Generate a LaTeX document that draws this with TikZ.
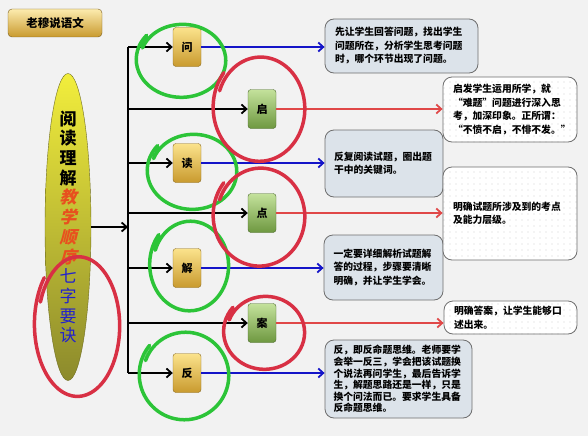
\documentclass[tikz,border=0pt]{standalone}
\usepackage{fontspec}
\newfontfamily\cjk{Noto Sans CJK SC}
\newfontfamily\cjkslant{Noto Sans CJK SC Bold}[FakeSlant=0.25]
\usetikzlibrary{shapes.geometric,arrows.meta,patterns.meta}
\definecolor{bgcol}{HTML}{F2F2F2}
\definecolor{goldtop}{HTML}{FBE38C}
\definecolor{goldbot}{HTML}{C99A2E}
\definecolor{greentop}{HTML}{C4E29C}
\definecolor{greenbot}{HTML}{6E9840}
\definecolor{elltop}{HTML}{F2EE3C}
\definecolor{ellmid}{HTML}{E6DE30}
\definecolor{ellbot}{HTML}{8C8A2C}
\definecolor{notefill}{HTML}{DCE3EA}
\definecolor{notegray}{HTML}{6E6E6E}
\definecolor{orderred}{HTML}{E8501E}
\definecolor{rulesblue}{HTML}{2222CC}
\definecolor{arrblue}{HTML}{1414C8}
\definecolor{arrred}{HTML}{E04848}
\definecolor{pengreen}{HTML}{2CC438}
\definecolor{penred}{HTML}{D83044}
\newcommand\handloop[5]{\draw[#1] plot[smooth,domain=200:580,samples=60,variable=\t]({#2+#4*(1+0.1*(\t-200)/380)*cos(\t)},{#3+#5*(1+0.1*(\t-200)/380)*sin(\t)});}
\tikzset{
  goldkey/.style={draw=goldbot!70!black,rounded corners=3pt,top color=goldtop,bottom color=goldbot,minimum width=28,minimum height=39,inner sep=0pt,font=\cjk\bfseries\fontsize{11}{13}\selectfont},
  greenkey/.style={goldkey,draw=greenbot!70!black,top color=greentop,bottom color=greenbot},
  note/.style={draw=notegray,fill=notefill,line width=0.8pt,rounded corners=9pt,align=left,inner xsep=10pt,font=\cjk\bfseries\fontsize{9.8}{13.5}\selectfont},
  dotnote/.style={note,fill=none,preaction={fill=white},pattern={Dots[distance=6pt,radius=0.45pt]},pattern color=gray},
  branch/.style={line width=1.8pt,-{Straight Barb[length=5pt,width=9pt]}},
  bluearr/.style={branch,draw=arrblue},
  redarr/.style={branch,draw=arrred},
  greenpen/.style={draw=pengreen,line width=3.5pt,line cap=round},
  redpen/.style={draw=penred,line width=3.5pt,line cap=round}
}
\begin{document}
\begin{tikzpicture}[x=1pt,y=-1pt]
\useasboundingbox[fill=bgcol] (0,0) rectangle (588,436);
% title button
\node[draw=goldbot!60!black,rounded corners=4pt,top color=goldtop!70!white,bottom color=goldbot,minimum width=94,minimum height=28,font=\cjk\bfseries\fontsize{11.5}{13}\selectfont] (title) at (55,23) {老穆说语文};
% main ellipse
\node[ellipse,draw=ellbot!80!black,top color=elltop,middle color=ellmid,bottom color=ellbot,minimum width=46,minimum height=307,inner sep=0pt] (main) at (68,227) {};
\node[align=center,inner sep=0pt,font=\cjk\bfseries\fontsize{17}{19.7}\selectfont] (maintxt) at (main.center) {阅\\读\\理\\解\\{\color{orderred}\cjkslant 教}\\{\color{orderred}\cjkslant 学}\\{\color{orderred}\cjkslant 顺}\\{\color{orderred}\cjkslant 序}\\{\color{rulesblue}\mdseries 七}\\{\color{rulesblue}\mdseries 字}\\{\color{rulesblue}\mdseries 要}\\{\color{rulesblue}\mdseries 诀}};
% the seven keys
\foreach \n/\k/\y in {wen/问/47,du/读/163,jie/解/268,fan/反/373}{\node[goldkey] (\n) at (187,\y) {\k};}
\foreach \n/\k/\y in {qi/启/109,dian/点/213,an/案/323}{\node[greenkey] (\n) at (262,\y) {\k};}
% trunk and branches
\coordinate (trunktop) at (128,47); \coordinate (trunkbot) at (128,373);
\draw[line width=1.8pt] (trunktop) -- (trunkbot);
\draw[branch] (main.east) -- (main.east -| trunktop);
\foreach \n in {wen,qi,du,dian,jie,an,fan}{\draw[branch] (\n.west -| trunktop) -- (\n.west);}
% notes
\node[note,minimum width=153,minimum height=54,text width=133] (twen) at (401.5,46) {先让学生回答问题，找出学生\\问题所在，分析学生思考问题\\时，哪个环节出现了问题。};
\node[note,minimum width=118,minimum height=67,text width=100,inner xsep=9pt] (tdu) at (384,163.5) {反复阅读试题，圈出题\\干中的关键词。};
\node[note,minimum width=119,minimum height=65,text width=100,inner xsep=9pt] (tjie) at (383.5,267.5) {一定要详细解析试题解\\答的过程，步骤要清晰\\明确，并让学生学会。};
\node[note,minimum width=147,minimum height=78,text width=130,inner xsep=8.5pt,font=\cjk\bfseries\fontsize{9.8}{11.6}\selectfont] (tfan) at (398.5,379) {反，即反命题思维。老师要学\\会举一反三，学会把该试题换\\个说法再问学生，最后告诉学\\生，解题思路还是一样，只是\\换个问法而已。要求学生具备\\反命题思维。};
\node[dotnote,minimum width=134,minimum height=65,text width=114] (tqi) at (510,109.5) {启发学生运用所学，就\\“难题”问题进行深入思\\考，加深印象。正所谓：\\“不愤不启，不悱不发。”};
\node[dotnote,minimum width=134,minimum height=93,text width=114] (tdian) at (510,213.5) {明确试题所涉及到的考点\\及能力层级。};
\node[dotnote,minimum width=133,minimum height=33,text width=113,inner ysep=2pt] (tan) at (510.5,317.5) {明确答案，让学生能够口\\述出来。};
\foreach \n in {wen,du,jie,fan}{\draw[bluearr] (\n.east) -- (\n.east -| t\n.west);}
\foreach \n in {qi,dian,an}{\draw[redarr] (\n.east) -- (\n.east -| t\n.west);}
% hand drawn marks
\foreach \cx/\cy/\rx/\ry in {182/60/42/35,193/171/42/36,190/265/37/43,185/375/42/42}{\handloop{greenpen}{\cx}{\cy}{\rx}{\ry}}
\foreach \cx/\cy/\rx/\ry in {260/108/43/50,260/216/43/47,265/332/38/35,78/325/40/67}{\handloop{redpen}{\cx}{\cy}{\rx}{\ry}}
\end{tikzpicture}
\end{document}
